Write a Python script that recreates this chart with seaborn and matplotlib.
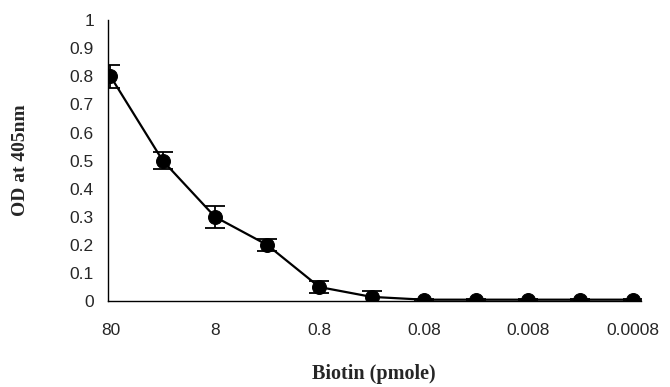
import numpy as np
import pandas as pd
import matplotlib
matplotlib.use("Agg")
import matplotlib.pyplot as plt
import seaborn as sns

# data
biotin = ["80", "", "8", "", "0.8", "", "0.08", "", "0.008", "", "0.0008"]
od = [0.80, 0.50, 0.30, 0.20, 0.05, 0.015, 0.005, 0.005, 0.005, 0.005, 0.005]
err = [0.04, 0.03, 0.04, 0.02, 0.02, 0.02, 0.004, 0.004, 0.004, 0.004, 0.004]

sns.set_style("white")
plt.rcParams['font.family'] = ['Liberation Sans', 'DejaVu Sans']

df = pd.DataFrame({"pos": np.arange(len(od)), "od": od})

fig = plt.figure(figsize=(6.7, 3.87), dpi=100)
ax = fig.add_axes([0.161, 0.222, 0.795, 0.726])

ax.errorbar(df["pos"], df["od"], yerr=err, fmt="none", ecolor="black",
            elinewidth=1.3, capsize=7, capthick=1.3, zorder=2)
sns.lineplot(data=df, x="pos", y="od", ax=ax, color="black", marker="o",
             markersize=10, linewidth=1.6, markeredgecolor="black", zorder=3)

ax.set_xlim(-0.05, 10.15)
ax.set_ylim(0, 1)
ax.set_xticks(df["pos"])
ax.set_xticklabels(biotin)
ax.set_yticks(np.arange(0, 1.01, 0.1))
ax.set_yticklabels(["0"] + [f"{v:.1f}" for v in np.arange(0.1, 0.95, 0.1)] + ["1"])
ax.tick_params(axis="y", length=4, width=1, direction="out", color="black",
               labelsize=12.5, pad=6)
ax.tick_params(axis="x", length=0, labelsize=12.5, pad=16)

for s in ["top", "right"]:
    ax.spines[s].set_visible(False)
for s in ["left", "bottom"]:
    ax.spines[s].set_color("black")
    ax.spines[s].set_linewidth(1)

ax.set_ylabel("OD at 405nm", family=["Liberation Serif"], fontweight="bold",
              fontsize=14)
ax.yaxis.set_label_coords(-0.148, 0.5)
ax.set_xlabel("Biotin (pmole)", family=["Liberation Serif"], fontweight="bold",
              fontsize=14.5)
ax.xaxis.set_label_coords(0.5, -0.225)

fig.savefig("out.png", dpi=100)
